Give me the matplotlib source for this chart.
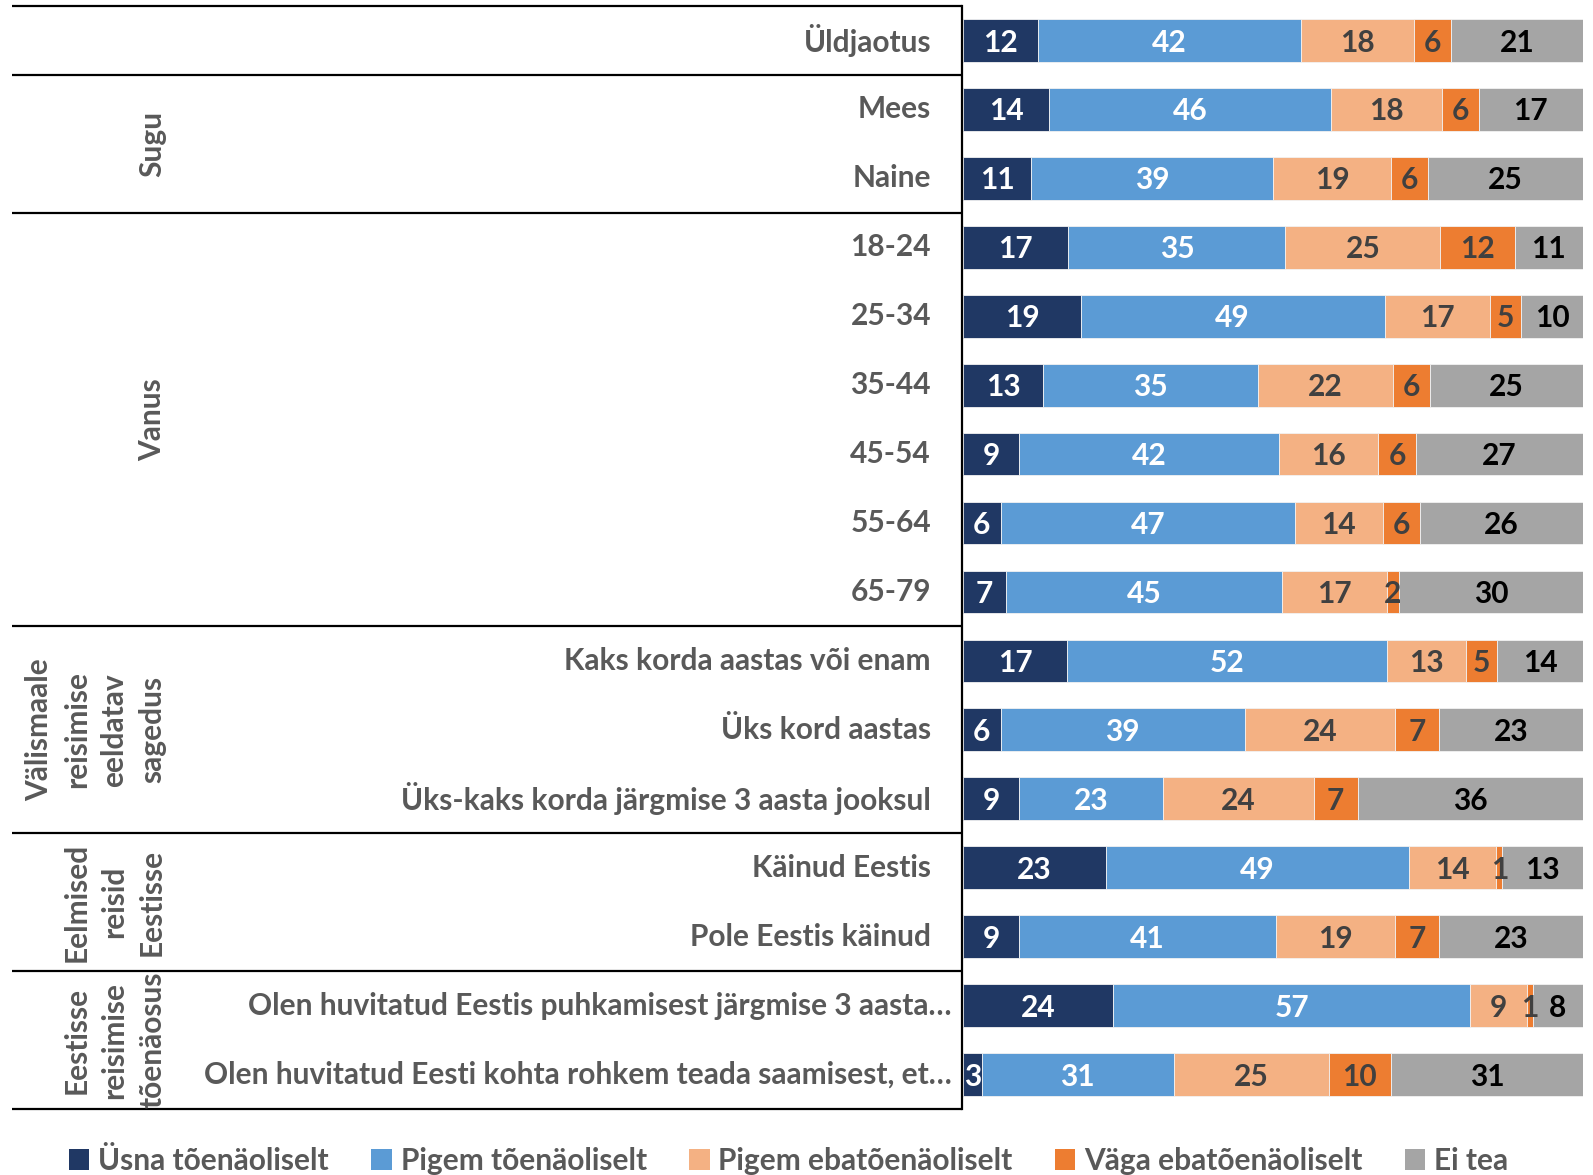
import matplotlib
matplotlib.use("Agg")
import matplotlib.pyplot as plt
from matplotlib.patches import Patch, Rectangle
import numpy as np

categories = ["Üldjaotus", "Mees", "Naine", "18-24", "25-34", "35-44", "45-54",
              "55-64", "65-79", "Kaks korda aastas või enam", "Üks kord aastas",
              "Üks-kaks korda järgmise 3 aasta jooksul", "Käinud Eestis",
              "Pole Eestis käinud",
              "Olen huvitatud Eestis puhkamisest järgmise 3 aasta…",
              "Olen huvitatud Eesti kohta rohkem teada saamisest, et…"]
usna = [12, 14, 11, 17, 19, 13, 9, 6, 7, 17, 6, 9, 23, 9, 24, 3]
pigem = [42, 46, 39, 35, 49, 35, 42, 47, 45, 52, 39, 23, 49, 41, 57, 31]
pigem_eba = [18, 18, 19, 25, 17, 22, 16, 14, 17, 13, 24, 24, 14, 19, 9, 25]
vaga_eba = [6, 6, 6, 12, 5, 6, 6, 6, 2, 5, 7, 7, 1, 7, 1, 10]
ei_tea = [21, 17, 25, 11, 10, 25, 27, 26, 30, 14, 23, 36, 13, 23, 8, 31]
series_names = ["Üsna tõenäoliselt", "Pigem tõenäoliselt", "Pigem ebatõenäoliselt",
                "Väga ebatõenäoliselt", "Ei tea"]
group_labels = ["", "Sugu", "Vanus", "Välismaale\nreisimise\neeldatav\nsagedus",
                "Eelmised\nreisid\nEestisse", "Eestisse\nreisimise\ntõenäosus"]
group_spans = [(0, 0), (1, 2), (3, 8), (9, 11), (12, 13), (14, 15)]

colors = ["#203864", "#5B9BD5", "#F4B183", "#ED7D31", "#A5A5A5"]
txt_colors = ["white", "white", "#404040", "#404040", "black"]
FONT = "Lato"
FS = 21.5
GREY = "#595959"

W, H = 1593, 1175
fig = plt.figure(figsize=(W / 100, H / 100), dpi=100)
ax = fig.add_axes([963 / W, 1 - 1109 / H, 620 / W, 1103 / H])
tax = fig.add_axes([12 / W, 1 - 1109 / H, 950 / W, 1103 / H])

series = np.array([usna, pigem, pigem_eba, vaga_eba, ei_tea], dtype=float)
totals = series.sum(axis=0)
norm = series / totals
n = len(categories)
y = np.arange(n)
left = np.zeros(n)
for k in range(5):
    ax.barh(y, norm[k], left=left, height=0.62, color=colors[k],
            edgecolor="#f2f2f2", linewidth=0.6)
    for i in range(n):
        ax.text(left[i] + norm[k][i] / 2, y[i] + 0.03, str(int(series[k][i])),
                ha="center", va="center", color=txt_colors[k], fontsize=FS,
                fontweight="bold", family=FONT)
    left += norm[k]
ax.set_xlim(0, 1)
ax.set_ylim(n - 0.5, -0.5)
ax.axis("off")

# table on the left
tax.set_xlim(0, 950)
tax.set_ylim(n - 0.5, -0.5)
tax.axis("off")
for i, c in enumerate(categories):
    xr = 940 if c.endswith("…") else 919
    tax.text(xr, i, c, ha="right", va="center", color=GREY, fontsize=FS,
             fontweight="bold", family=FONT)
bounds = [-0.5] + [e + 0.5 for s, e in group_spans]
for b in bounds:
    tax.plot([0, 950], [b, b], color="black", lw=1.6, clip_on=False,
             solid_capstyle="butt")
tax.plot([950, 950], [-0.5, n - 0.5], color="black", lw=1.6, clip_on=False)
for lab, (s, e) in zip(group_labels, group_spans):
    if lab:
        t = tax.text(154, (s + e) / 2, lab, rotation=90, ha="right", va="center",
                     multialignment="center", color=GREY, fontsize=FS,
                     fontweight="bold", family=FONT, linespacing=1.42)
        clip = Rectangle((0, s - 0.5), 950, e - s + 1, transform=tax.transData)
        t.set_clip_path(clip)
        t.set_clip_on(True)

handles = [Patch(facecolor=c, edgecolor="none") for c in colors]
fig.legend(handles, series_names, loc="center", bbox_to_anchor=(0.495, 1 - 1161 / H),
           ncol=5, frameon=False, handlelength=0.7, handleheight=0.7,
           handletextpad=0.3, columnspacing=1.4,
           prop={"family": FONT, "size": FS, "weight": "bold"}, labelcolor=GREY)

fig.savefig("out.png", dpi=100)
